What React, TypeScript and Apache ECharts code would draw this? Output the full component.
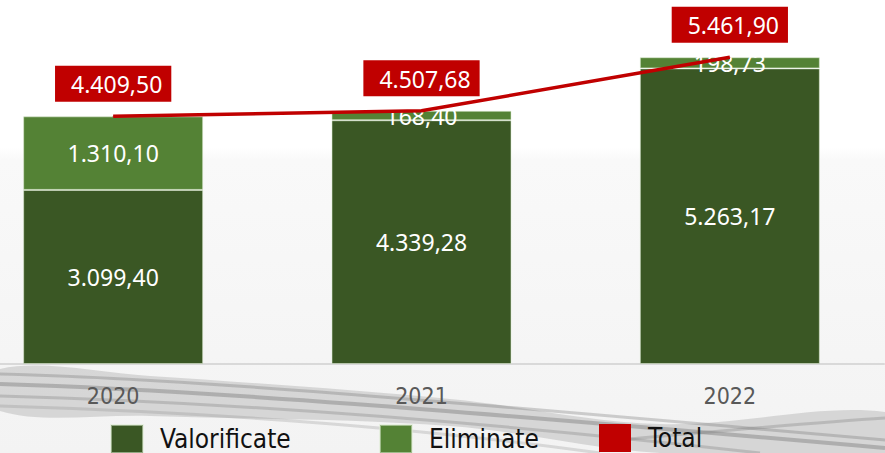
import React, { useEffect, useRef } from "react";
import * as echarts from "echarts";

const categories = ["2020", "2021", "2022"];
const valorificate = [3099.4, 4339.28, 5263.17];
const eliminate = [1310.1, 168.4, 198.73];
const total = [4409.5, 4507.68, 5461.9];
const legendNames = ["Valorificate", "Eliminate", "Total"];

const fmt = (v: number) => {
  const [i, d] = v.toFixed(2).split(".");
  return i.replace(/\B(?=(\d{3})+(?!\d))/g, ".") + "," + d;
};

const NARROW = "'DejaVu Sans Condensed', 'Noto Sans', sans-serif";
const NUM = "'Noto Sans', 'DejaVu Sans', sans-serif";
const OX = 41; // container is shifted left by this many pixels

export default function App() {
  const ref = useRef<HTMLDivElement>(null);
  useEffect(() => {
    document.body.style.margin = "0";
    document.body.style.overflow = "hidden";
    const chart = echarts.init(ref.current!, undefined, { renderer: "svg" });
    const sh = (pts: number[][]) => pts.map(([x, y]) => [x + OX, y]);
    const streaks = [
      { p: [[0, 374], [180, 378], [430, 400], [885, 440]], c: "rgba(110,110,110,0.3)", w: 3 },
      { p: [[0, 384], [200, 390], [450, 410], [885, 448]], c: "rgba(100,100,100,0.35)", w: 4 },
      { p: [[0, 396], [220, 402], [470, 420], [760, 453]], c: "rgba(120,120,120,0.3)", w: 3 },
      { p: [[0, 406], [200, 412], [400, 425], [600, 453]], c: "rgba(130,130,130,0.25)", w: 3 },
      { p: [[620, 440], [730, 430], [820, 422], [885, 418]], c: "rgba(120,120,120,0.3)", w: 3 },
    ];
    chart.setOption({
      animation: false,
      backgroundColor: "#ffffff",
      graphic: [
        {
          type: "rect",
          z: -10,
          silent: true,
          shape: { x: 0, y: 148, width: 885 + OX, height: 305 },
          style: {
            fill: new echarts.graphic.LinearGradient(0, 0, 0, 1, [
              { offset: 0, color: "#ffffff" },
              { offset: 0.04, color: "#f9f9f9" },
              { offset: 1, color: "#f3f3f3" },
            ]),
          },
        },
        {
          type: "polygon",
          z: -9,
          silent: true,
          shape: {
            smooth: 0.35,
            points: sh([
              [0, 369], [150, 376], [450, 399], [660, 424], [885, 412],
              [885, 453], [660, 453], [450, 426], [150, 416], [0, 411],
            ]),
          },
          style: { fill: "rgba(170,170,170,0.4)" },
        },
        ...streaks.map((s) => {
          const p = sh(s.p);
          return {
            type: "bezierCurve",
            z: -8,
            silent: true,
            shape: {
              x1: p[0][0], y1: p[0][1],
              cpx1: p[1][0], cpy1: p[1][1],
              cpx2: p[2][0], cpy2: p[2][1],
              x2: p[3][0], y2: p[3][1],
            },
            style: { stroke: s.c, lineWidth: s.w, fill: "none" },
          };
        }),
      ],
      grid: { left: 0, right: 1, top: 27, bottom: 89 },
      legend: legendNames.map((n, i) => ({
        left: [110, 379, 599][i] + OX,
        top: 424,
        padding: 0,
        itemWidth: 32,
        itemHeight: 28,
        icon: "rect",
        textStyle: { fontFamily: NARROW, fontSize: 26, color: "#111", padding: [0, 0, 8, 12] },
        data: [n],
      })),
      xAxis: {
        type: "category",
        data: categories,
        axisLine: { show: true, lineStyle: { color: "#d9d9d9", width: 2 } },
        axisTick: { show: false },
        axisLabel: { color: "#595959", fontFamily: NARROW, fontSize: 23, margin: 20 },
      },
      yAxis: { type: "value", min: 0, max: 6000, show: false, splitLine: { show: false } },
      series: [
        {
          name: "Valorificate",
          type: "bar",
          stack: "s",
          barWidth: 180,
          data: valorificate,
          itemStyle: { color: "#3a5724", borderColor: "rgba(220,235,210,0.55)", borderWidth: 1 },
          label: { show: true, position: "inside", color: "#fff", fontFamily: NUM, fontSize: 23, formatter: (p: any) => fmt(p.value) },
        },
        {
          name: "Eliminate",
          type: "bar",
          stack: "s",
          barWidth: 180,
          data: eliminate,
          itemStyle: { color: "#548235", borderColor: "rgba(220,235,210,0.55)", borderWidth: 1 },
          label: { show: true, position: "inside", color: "#fff", fontFamily: NUM, fontSize: 23, formatter: (p: any) => fmt(p.value) },
        },
        {
          name: "Total",
          type: "line",
          data: total,
          z: 5,
          color: "#c00000",
          lineStyle: { color: "#c00000", width: 3.5 },
          symbol: "circle",
          symbolSize: 1,
          showSymbol: true,
          itemStyle: { color: "#c00000" },
          label: {
            show: true,
            position: "top",
            distance: 14,
            color: "#fff",
            fontFamily: NUM,
            fontSize: 23,
            backgroundColor: "#c00000",
            padding: [7, 9, 6, 16],
            formatter: (p: any) => fmt(p.value),
          },
        },
      ],
    });
    return () => chart.dispose();
  }, []);
  return <div ref={ref} style={{ position: "absolute", left: -OX, top: 0, width: 885 + OX, height: 453 }} />;
}
